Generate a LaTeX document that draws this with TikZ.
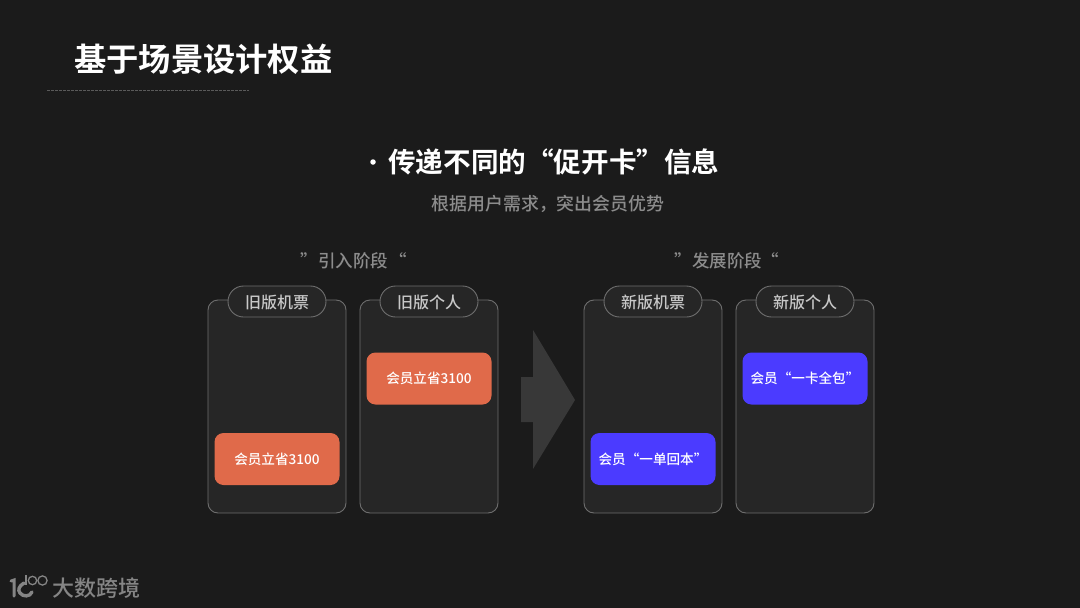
\documentclass[tikz,border=0pt]{standalone}
\usepackage{fontspec}
\setmainfont{Noto Sans CJK SC}
\newfontfamily\cjkbold{Noto Sans CJK SC Bold}
\newfontfamily\cjkmed{Noto Sans CJK SC Medium}
\definecolor{bgc}{HTML}{1B1B1B}
\definecolor{cardc}{HTML}{262626}
\definecolor{edgec}{HTML}{6E6E6E}
\definecolor{rulec}{HTML}{5A5A5A}
\definecolor{orangec}{HTML}{E06A4A}
\definecolor{bluec}{HTML}{4B3BFF}
\definecolor{greyt}{HTML}{8C8C8C}
\definecolor{pillt}{HTML}{C8C8C8}
\definecolor{arrowc}{HTML}{383838}
\definecolor{logoc}{HTML}{858585}
\tikzset{
  x=1pt,y=-1pt,
  cardbox/.style={draw=edgec,line width=0.9pt,fill=cardc,rounded corners=10pt},
  pillbox/.style={draw=edgec,line width=0.9pt,fill=cardc,rounded corners=15.5pt,minimum width=98pt,minimum height=31pt,inner sep=0pt,text=pillt,font=\cjkmed\fontsize{16}{16}\selectfont},
  offerbox/.style={rounded corners=9pt,minimum width=125pt,minimum height=52pt,inner sep=0pt,text=white,font=\cjkmed\fontsize{13.6}{14}\selectfont},
  headtext/.style={inner sep=0pt,text=greyt,font=\cjkmed\fontsize{17.5}{18}\selectfont},
  logoline/.style={draw=logoc,line cap=round}
}
\newcommand{\phonecard}[3]{%
  \path[cardbox] (#1,300) rectangle (#1+138,513);
  \node[pillbox] (#2) at (#1+69,301.5) {\raisebox{-1pt}[14pt][2pt]{#3}};
}
\begin{document}
\begin{tikzpicture}
\useasboundingbox (0,0) rectangle (1080,608);
\fill[bgc] (0,0) rectangle (1080,608);
\node[anchor=west,inner sep=0pt,text=white] (title) at (74,59) {\cjkbold\fontsize{32.3}{32}\selectfont 基于场景设计权益};
\coordinate (ruleL) at (47,90.5);
\coordinate (ruleR) at (249,90.5);
\draw[draw=rulec,line width=1pt,dash pattern=on 2.6pt off 1.4pt] (ruleL) -- (ruleR);
\node[circle,fill=white,inner sep=0pt,minimum size=5.5pt] (dot) at (373,162) {};
\node[anchor=west,inner sep=0pt,text=white] (head) at (388,162) {\cjkbold\fontsize{27.6}{28}\selectfont 传递不同的“促开卡”信息};
\node[inner sep=0pt,text=greyt,font=\cjkmed\fontsize{17.9}{18}\selectfont] (sub) at (548,204) {根据用户需求，突出会员优势};
\node[headtext] (h1) at (353,261) {引入阶段};
\node[headtext] (h2) at (727,261) {发展阶段};
\node[headtext] (q1) at (309.5,260) {”};
\node[headtext] (q2) at (398,260) {“};
\node[headtext] (q3) at (683,260) {”};
\node[headtext] (q4) at (770,260) {“};
\phonecard{208}{p1}{旧版机票}
\phonecard{360}{p2}{旧版个人}
\phonecard{584}{p3}{新版机票}
\phonecard{736}{p4}{新版个人}
\node[offerbox,fill=orangec] (o1) at (277,459) {会员立省3100};
\node[offerbox,fill=orangec] (o2) at (429,378.5) {会员立省3100};
\node[offerbox,fill=bluec] (o3) at (653,459) {会员“一单回本”};
\node[offerbox,fill=bluec] (o4) at (805,378.5) {会员“一卡全包”};
\fill[arrowc] (521,377) -- (533,377) -- (533,330) -- (575,400) -- (533,469) -- (533,422) -- (521,422) -- cycle;
% logo
\draw[logoline,line width=3pt] (11,581) -- (14,580) -- (14,596);
\draw[logoline,line width=3.4pt] (24,583) .. controls (19,586) and (17.5,590) .. (20,593) .. controls (23,597) and (30,597) .. (32,592);
\draw[draw=logoc,line width=1.3pt] (26,575) -- (26,585);
\draw[draw=logoc,line width=1.3pt] (32.5,580.5) circle (4.2pt);
\draw[draw=logoc,line width=1.3pt] (42.5,580.5) circle (4.6pt);
\node[anchor=west,inner sep=0pt,text=logoc] (brand) at (52,588) {\cjkmed\fontsize{22}{22}\selectfont 大数跨境};
\end{tikzpicture}
\end{document}
